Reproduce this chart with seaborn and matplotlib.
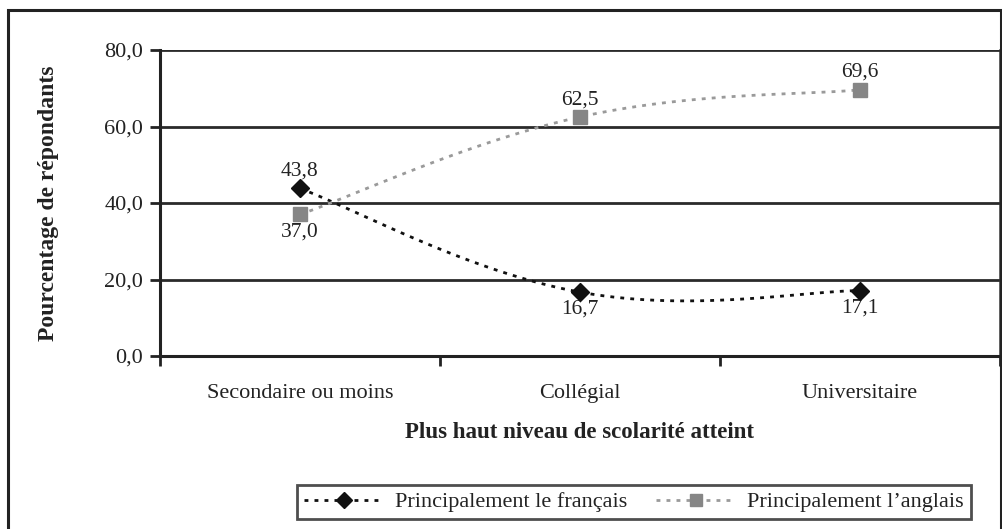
import numpy as np
import pandas as pd
import seaborn as sns
import matplotlib
matplotlib.use("Agg")
import matplotlib.pyplot as plt
from matplotlib.patches import Rectangle
from matplotlib.lines import Line2D

categories = ["Secondaire ou moins", "Collégial", "Universitaire"]
francais = [43.8, 16.7, 17.1]
anglais = [37.0, 62.5, 69.6]
series_names = ["Principalement le français", "Principalement l\u2019anglais"]
y_ticks = [0, 20, 40, 60, 80]

sns.set_theme(style="white")
plt.rcParams["font.family"] = ["Liberation Serif", "DejaVu Serif"]
TXT = "#222222"


def smooth_curve(xs, ys, n=60):
    """Bezier smoothing through the points (spreadsheet style smoothed line)."""
    pts = np.column_stack([xs, ys]).astype(float)
    padded = np.vstack([pts[0], pts, pts[-1]])
    out = []
    for i in range(len(pts) - 1):
        p0, p1, p2, p3 = padded[i], padded[i + 1], padded[i + 2], padded[i + 3]
        c1 = p1 + (p2 - p0) / 5.0
        c2 = p2 - (p3 - p1) / 5.0
        t = np.linspace(0, 1, n)[:, None]
        seg = ((1 - t) ** 3) * p1 + 3 * ((1 - t) ** 2) * t * c1 + 3 * (1 - t) * t ** 2 * c2 + t ** 3 * p2
        out.append(seg if i == 0 else seg[1:])
    return np.vstack(out)


fig = plt.figure(figsize=(10.03, 5.29), dpi=100)
ax = fig.add_axes([160 / 1003, 1 - 356 / 529, 840 / 1003, 306 / 529])

xpos = np.arange(len(categories))
df = pd.DataFrame({"x": np.concatenate([xpos, xpos]),
                   "y": francais + anglais,
                   "serie": [series_names[0]] * 3 + [series_names[1]] * 3})

styles = {
    series_names[0]: dict(color="#111111", marker="D", mcolor="#111111", dash=(1.4, 2.2), ms=9),
    series_names[1]: dict(color="#9a9a9a", marker="s", mcolor="#868686", dash=(1.4, 2.2), ms=9.5),
}

for name, vals in zip(series_names, [francais, anglais]):
    st = styles[name]
    curve = smooth_curve(xpos, vals)
    sns.lineplot(x=curve[:, 0], y=curve[:, 1], ax=ax, color=st["color"], lw=2.0,
                 sort=False, estimator=None, legend=False, dashes=False)
    ax.lines[-1].set_dashes(st["dash"])
    sub = df[df["serie"] == name]
    ax.plot(sub["x"], sub["y"], ls="none", marker=st["marker"], ms=st["ms"],
            mfc=st["mcolor"], mec=st["mcolor"], zorder=5)

# value labels
label_offsets = {
    series_names[0]: [1, -1, -1],
    series_names[1]: [-1, 1, 1],
}
for name, vals in zip(series_names, [francais, anglais]):
    for xi, v, off in zip(xpos, vals, label_offsets[name]):
        ax.annotate(f"{v:.1f}".replace(".", ","), (xi, v), xytext=(0, 12.5 * off),
                    textcoords="offset points", ha="center", va="center",
                    fontsize=15.5, color=TXT)

ax.set_xlim(-0.5, 2.5)
ax.set_ylim(0, 80)
ax.set_yticks(y_ticks)
ax.set_yticklabels([f"{t:.1f}".replace(".", ",") for t in y_ticks], fontsize=16, color=TXT)
ax.set_xticks(xpos)
ax.set_xticklabels(categories, fontsize=16, color=TXT)
ax.set_xticks([-0.5, 0.5, 1.5, 2.5], minor=True)
ax.tick_params(axis="x", which="major", length=0, pad=20)
ax.tick_params(axis="x", which="minor", length=7, width=2, color="#222222", direction="out", bottom=True)
ax.tick_params(axis="y", length=7, width=2, color="#222222", direction="out", left=True, pad=5)

for yv in y_ticks[1:]:
    ax.axhline(yv, color="#2a2a2a", lw=2, zorder=1)
for side in ["left", "bottom"]:
    ax.spines[side].set_color("#222222")
    ax.spines[side].set_linewidth(2.2)
ax.spines["right"].set_color("#333333")
ax.spines["right"].set_linewidth(1.8)
ax.spines["top"].set_visible(False)

ax.set_xlabel("Plus haut niveau de scolarité atteint", fontsize=16.5, fontweight="bold",
              color=TXT, labelpad=14)
ax.set_ylabel("Pourcentage de répondants", fontsize=17, fontweight="bold",
              color=TXT, labelpad=33)

handles = [Line2D([0], [0], color=styles[n]["color"], lw=2, dashes=styles[n]["dash"],
                  marker=styles[n]["marker"], ms=styles[n]["ms"] - 1,
                  mfc=styles[n]["mcolor"], mec=styles[n]["mcolor"]) for n in series_names]
leg = fig.legend(handles, series_names, loc="center", bbox_to_anchor=(634 / 1003, 1 - 502 / 529),
                 ncol=2, frameon=True, fancybox=False, fontsize=16, handlelength=3.6,
                 columnspacing=1.3, borderpad=0.3, handletextpad=0.5)
leg.get_frame().set_edgecolor("#222222")
leg.get_frame().set_linewidth(2)
for t in leg.get_texts():
    t.set_color(TXT)

# outer chart frame
fig.patches.append(Rectangle((8 / 1003, -0.05), 993 / 1003, 1 - 10 / 529 + 0.05,
                             transform=fig.transFigure, fill=False, ec="#222222", lw=2.2))

fig.savefig("out.png", dpi=100)
